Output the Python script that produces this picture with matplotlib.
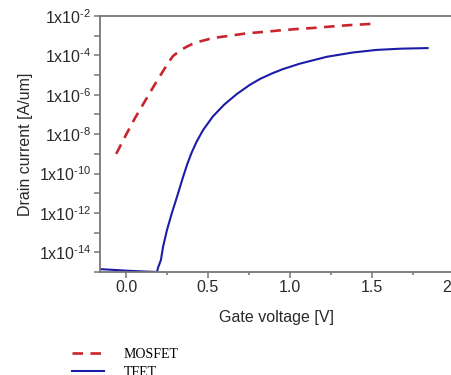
import numpy as np
import matplotlib
matplotlib.use("Agg")
import matplotlib.pyplot as plt
from matplotlib.ticker import FixedLocator, FuncFormatter, MultipleLocator

plt.rcParams["font.family"] = ["Liberation Sans", "DejaVu Sans"]
plt.rcParams["mathtext.fontset"] = "custom"
plt.rcParams["mathtext.rm"] = "Liberation Sans"
plt.rcParams["mathtext.default"] = "regular"

# values
mosfet_v = [-0.06, 0.006, 0.055, 0.116, 0.177, 0.238, 0.262, 0.287, 0.317, 0.345, 0.372,
            0.405, 0.439, 0.530, 0.634, 0.738, 0.848, 0.951, 1.049, 1.152, 1.256, 1.354,
            1.457, 1.5]
mosfet_i = [1.0e-9, 1.15e-8, 6.6e-8, 4.8e-7, 3.5e-6, 2.3e-5, 4.7e-5, 9.3e-5, 1.45e-4, 2.1e-4,
            2.8e-4, 3.8e-4, 4.8e-4, 7.6e-4, 1.0e-3, 1.32e-3, 1.58e-3, 1.9e-3, 2.2e-3,
            2.5e-3, 2.95e-3, 3.4e-3, 3.8e-3, 4.0e-3]

tfet_v = [-0.159, 0.0, 0.1, 0.189, 0.195, 0.213, 0.226, 0.25, 0.28, 0.311, 0.348, 0.375,
          0.40, 0.43, 0.47, 0.53, 0.60, 0.677, 0.756, 0.817, 0.896, 0.957, 1.061, 1.226,
          1.384, 1.53, 1.68, 1.841]
tfet_i = [1.4e-15, 1.17e-15, 1.07e-15, 1.0e-15, 1.6e-15, 4.1e-15, 1.9e-14, 1.35e-13, 1.0e-12,
          6.5e-12, 6.6e-11, 3.2e-10, 1.12e-9, 4.0e-9, 1.6e-8, 7.9e-8, 3.2e-7, 1.1e-6,
          3.2e-6, 6.3e-6, 1.26e-5, 2.0e-5, 3.8e-5, 8.5e-5, 1.4e-4, 1.9e-4, 2.2e-4, 2.35e-4]

y_major = [1e-2, 1e-4, 1e-6, 1e-8, 1e-10, 1e-12, 1e-14]
y_minor = [1e-3, 1e-5, 1e-7, 1e-9, 1e-11, 1e-13, 1e-15]
x_major = [0.0, 0.5, 1.0, 1.5, 2.0]
x_labels = ["0.0", "0.5", "1.0", "1.5", "2.0"]


def sci_label(val, pos):
    exp = int(round(np.log10(val)))
    return r"1x10$^{\text{%d}}$" % exp


fig = plt.figure(figsize=(4.52, 3.75), dpi=100)
ax = fig.add_axes([0.2212, 0.2747, 0.8186, 0.6826])

ax.plot(mosfet_v, mosfet_i, color="#c8262c", lw=1.9, dashes=(4, 2.8), label="MOSFET")
ax.plot(tfet_v, tfet_i, color="#1c1ca8", lw=1.5, label="TFET")

ax.set_yscale("log")
ax.set_xlim(-0.159, 2.1)
ax.set_ylim(1e-15, 1e-2)

ax.yaxis.set_major_locator(FixedLocator(y_major))
ax.yaxis.set_minor_locator(FixedLocator(y_minor))
ax.yaxis.set_major_formatter(FuncFormatter(sci_label))
ax.yaxis.set_minor_formatter(FuncFormatter(lambda v, p: ""))

ax.set_xticks(x_major)
ax.set_xticklabels(x_labels)
ax.xaxis.set_minor_locator(MultipleLocator(0.25))

for side in ["top", "left", "bottom"]:
    ax.spines[side].set_color("#777777")
    ax.spines[side].set_linewidth(1.3)
ax.spines["right"].set_visible(False)

ax.tick_params(axis="both", which="major", direction="out", length=4, width=1.1,
               color="#777777", labelsize=11.5, labelcolor="#2a2a2a", pad=2)
ax.tick_params(axis="y", which="minor", direction="out", length=4, width=1.1, color="#777777")
ax.tick_params(axis="x", which="minor", direction="out", length=2.5, width=1.1, color="#777777")

ax.set_xlabel("Gate voltage [V]", fontsize=11.5, color="#2a2a2a")
ax.set_ylabel("Drain current [A/um]", fontsize=11.5, color="#2a2a2a", labelpad=4)
ax.xaxis.set_label_coords((277 - 100) / (0.8186 * 452), -0.15)

fig.legend(loc="upper left", bbox_to_anchor=(0.145, 0.09), frameon=False,
           prop={"family": "Liberation Serif", "size": 10}, handlelength=2.3,
           handletextpad=1.4, labelspacing=0.35, borderpad=0)

plt.savefig("out.png", dpi=100)
plt.close()
